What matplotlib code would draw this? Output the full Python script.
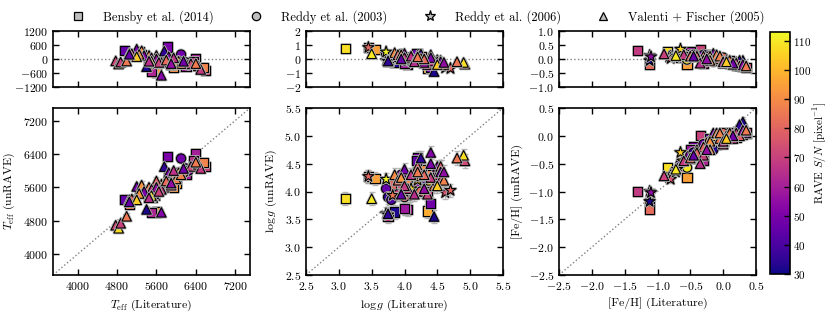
import matplotlib
matplotlib.use("Agg")
import matplotlib.pyplot as plt
import matplotlib.patheffects as pe
from matplotlib.lines import Line2D

plt.rcParams.update({
    "font.family": "serif",
    "font.serif": ["cmr10"],
    "mathtext.fontset": "cm",
    "axes.formatter.use_mathtext": True,
    "axes.unicode_minus": True,
    "font.size": 8.5,
    "axes.linewidth": 1.2,
    "xtick.direction": "in",
    "ytick.direction": "in",
    "xtick.top": True,
    "ytick.right": True,
    "xtick.major.size": 4,
    "ytick.major.size": 4,
    "xtick.major.width": 1.0,
    "ytick.major.width": 1.0,
    "xtick.minor.visible": False,
    "ytick.minor.visible": False,
})

# Bensby et al. (2014)
bensby_teff_lit = [5050, 5600, 6400, 5820, 5100, 5500, 6500, 6600, 6550, 5450, 5700,
                   5300, 6000, 6050, 5850, 5650, 6350, 5250, 5500, 6200, 5950, 4950]
bensby_teff_un = [5200, 5010, 6400, 6330, 5300, 4990, 6150, 6100, 6200, 5380, 5600,
                  5500, 5700, 5950, 5850, 5600, 6250, 5550, 5350, 5900, 5600, 5300]
bensby_logg_lit = [3.45, 3.55, 4.00, 4.20, 3.10, 4.05, 4.30, 4.35, 4.40, 3.85, 3.90,
                   3.75, 4.35, 4.40, 4.10, 3.90, 4.20, 3.80, 4.00, 4.50, 4.25, 4.18]
bensby_logg_un = [4.27, 4.23, 3.70, 4.60, 3.87, 3.68, 4.10, 4.00, 4.30, 3.63, 3.95,
                  3.55, 3.65, 3.78, 4.00, 4.10, 4.35, 4.12, 3.70, 4.30, 4.40, 4.55]
bensby_feh_lit = [-0.65, -0.55, 0.10, -0.45, -0.85, -0.30, 0.35, 0.30, 0.20, -1.12, -1.12,
                  -1.30, -0.10, -0.05, -0.35, -0.40, 0.00, -0.50, -0.50, 0.10, -0.10, -0.20]
bensby_feh_un = [-0.60, -0.75, 0.05, -0.20, -0.57, -0.45, 0.05, 0.02, -0.02, -1.20, -1.32,
                 -1.00, -0.15, 0.00, 0.00, -0.30, -0.10, -0.40, -0.25, -0.05, -0.10, -0.05]
bensby_snr = [85, 95, 60, 50, 108, 62, 72, 70, 88, 32, 82,
              68, 98, 48, 70, 72, 66, 80, 58, 60, 92, 45]

# Reddy et al. (2003)
reddy03_teff_lit = [6100, 6200, 5900, 5750, 5950, 6000, 5700, 6250, 5800, 6050, 5650, 6150]
reddy03_teff_un = [6290, 6050, 5800, 5650, 5850, 5800, 5550, 6000, 5700, 5950, 5500, 5950]
reddy03_logg_lit = [4.10, 4.30, 3.72, 3.95, 4.08, 4.00, 3.75, 4.20, 4.05, 3.90, 3.80, 4.25]
reddy03_logg_un = [4.00, 4.20, 4.05, 4.30, 3.93, 3.90, 3.90, 4.10, 4.15, 3.95, 3.85, 4.00]
reddy03_feh_lit = [-0.20, -0.15, -0.30, -0.50, -0.55, -0.30, -0.45, 0.05, -0.20, -0.10, -0.65, 0.00]
reddy03_feh_un = [-0.10, -0.25, -0.15, -0.35, -0.57, -0.35, -0.30, -0.05, -0.10, -0.05, -0.50, 0.05]
reddy03_snr = [48, 33, 45, 50, 110, 78, 35, 52, 90, 70, 40, 82]

# Reddy et al. (2006)
reddy06_teff_lit = [5600, 5500, 5800, 5700, 5650, 5600, 5750, 5900, 5700, 5550]
reddy06_teff_un = [5450, 5400, 5700, 5550, 5500, 5400, 5600, 5700, 5650, 5350]
reddy06_logg_lit = [4.00, 3.72, 3.72, 3.82, 4.62, 4.70, 4.10, 3.45, 4.20, 3.75]
reddy06_logg_un = [4.00, 3.60, 4.22, 3.93, 3.98, 4.02, 4.05, 4.27, 4.20, 3.58]
reddy06_feh_lit = [-1.12, -1.12, -0.80, -0.82, -0.80, -0.72, -0.62, -0.70, -0.65, -1.10]
reddy06_feh_un = [-1.00, -1.18, -0.70, -0.75, -0.78, -0.65, -0.45, -0.60, -0.30, -1.02]
reddy06_snr = [50, 32, 112, 85, 75, 80, 108, 80, 105, 55]

# Valenti + Fischer (2005)
valenti_teff_lit = [4773, 4833, 4874, 4995, 5400, 5700, 5200, 5050, 5100, 5300,
                    5450, 5600, 5760, 5850, 5950, 6050, 5550, 5500, 5750, 5800,
                    5900, 6000, 6300, 6450, 6500, 5350, 5250, 5600, 5700, 5500,
                    5650, 5800, 6100, 5950, 6150, 5200, 5450, 6400, 5050, 5900]
valenti_teff_un = [4690, 4619, 4738, 4905, 5070, 5000, 5620, 5300, 5320, 5650,
                   5600, 5750, 6095, 5950, 5850, 5950, 5450, 5550, 5600, 5700,
                   5650, 5800, 6100, 6150, 6050, 5500, 5450, 5600, 5550, 5400,
                   5500, 5750, 5900, 6000, 6050, 5300, 5350, 6200, 5250, 5700]
valenti_logg_lit = [4.92, 4.90, 4.55, 4.80, 4.45, 4.40, 4.00, 3.85, 3.90, 4.30,
                    4.10, 4.20, 4.25, 4.50, 4.25, 4.40, 3.75, 4.05, 4.30, 4.45,
                    4.35, 4.50, 4.50, 4.55, 4.40, 4.40, 3.95, 4.30, 4.00, 3.50,
                    4.55, 4.30, 4.60, 4.10, 4.55, 4.50, 4.15, 4.20, 3.95, 4.60]
valenti_logg_un = [4.55, 4.65, 4.45, 4.60, 3.55, 4.70, 4.40, 4.30, 4.20, 4.30,
                   4.30, 4.45, 4.60, 4.45, 4.28, 4.20, 3.60, 4.05, 4.00, 4.10,
                   3.95, 4.20, 4.30, 4.45, 4.25, 4.50, 4.25, 4.05, 4.10, 3.87,
                   4.20, 4.30, 4.20, 4.30, 4.35, 4.10, 3.95, 4.35, 3.95, 4.35]
valenti_feh_lit = [0.00, -0.10, 0.10, -0.05, 0.30, 0.20, -0.15, -0.40, -0.30, -0.20,
                   -0.10, 0.05, 0.25, 0.35, -0.05, 0.10, 0.35, -0.20, -0.40, -0.20,
                   -0.30, 0.10, 0.20, 0.25, 0.15, 0.00, -0.50, 0.30, -0.60, -0.72,
                   -0.90, -0.50, -0.05, 0.00, 0.15, 0.05, -0.35, 0.35, -0.45, -0.25]
valenti_feh_un = [-0.15, 0.00, 0.00, -0.05, 0.25, 0.10, 0.05, -0.25, -0.20, -0.10,
                  0.05, 0.00, 0.20, 0.05, 0.05, 0.05, 0.10, -0.25, -0.30, -0.25,
                  -0.35, 0.05, 0.05, 0.00, -0.05, -0.10, -0.40, 0.10, -0.45, -0.60,
                  -0.72, -0.40, 0.05, -0.10, 0.00, -0.05, -0.50, 0.10, -0.35, -0.25]
valenti_snr = [72, 108, 70, 85, 32, 52, 48, 90, 80, 92,
               88, 80, 35, 50, 92, 106, 35, 68, 80, 90,
               70, 88, 72, 78, 68, 50, 92, 55, 68, 110,
               70, 82, 88, 66, 48, 104, 65, 86, 45, 55]

labels = ["Bensby et al. (2014)", "Reddy et al. (2003)",
          "Reddy et al. (2006)", "Valenti + Fischer (2005)"]
markers = ["s", "o", "*", "^"]
sizes = [44, 44, 70, 46]

sources = [
    {"teff": (bensby_teff_lit, bensby_teff_un), "logg": (bensby_logg_lit, bensby_logg_un),
     "feh": (bensby_feh_lit, bensby_feh_un), "snr": bensby_snr},
    {"teff": (reddy03_teff_lit, reddy03_teff_un), "logg": (reddy03_logg_lit, reddy03_logg_un),
     "feh": (reddy03_feh_lit, reddy03_feh_un), "snr": reddy03_snr},
    {"teff": (reddy06_teff_lit, reddy06_teff_un), "logg": (reddy06_logg_lit, reddy06_logg_un),
     "feh": (reddy06_feh_lit, reddy06_feh_un), "snr": reddy06_snr},
    {"teff": (valenti_teff_lit, valenti_teff_un), "logg": (valenti_logg_lit, valenti_logg_un),
     "feh": (valenti_feh_lit, valenti_feh_un), "snr": valenti_snr},
]

# panel setup: key, limits, ticks, residual limits, residual ticks, label, error
panels = [
    ("teff", (3500, 7500), [4000, 4800, 5600, 6400, 7200], (-1200, 1200),
     [-1200, -600, 0, 600, 1200], r"$T_{\rm eff}$", 90),
    ("logg", (2.5, 5.5), [2.5, 3.0, 3.5, 4.0, 4.5, 5.0, 5.5], (-2, 2),
     [-2, -1, 0, 1, 2], r"$\log{g}$", 0.12),
    ("feh", (-2.5, 0.5), [-2.5, -2.0, -1.5, -1.0, -0.5, 0.0, 0.5], (-1, 1),
     [-1.0, -0.5, 0.0, 0.5, 1.0], "[Fe/H]", 0.06),
]
lefts = [53, 306, 559]

W, H = 830.0, 317.0


def box(x0, y0, x1, y1):
    return [x0 / W, 1 - y1 / H, (x1 - x0) / W, (y1 - y0) / H]


fig = plt.figure(figsize=(8.3, 3.17), dpi=100)
halo = [pe.withStroke(linewidth=2.0, foreground="0.7")]
fmt1 = matplotlib.ticker.FormatStrFormatter(r"$%.1f$")
sc = None

for (key, lim, ticks, dlim, dticks, name, err), x0 in zip(panels, lefts):
    ax_top = fig.add_axes(box(x0, 31, x0 + 197, 87))
    ax = fig.add_axes(box(x0, 108, x0 + 197, 275))

    for src, m, s in zip(sources, markers, sizes):
        lit, un = src[key]
        diff = [u - l for u, l in zip(un, lit)]
        ax.errorbar(lit, un, yerr=err, fmt="none", ecolor="0.65", elinewidth=1,
                    capsize=2, capthick=1, alpha=0.8, zorder=1)
        sc = ax.scatter(lit, un, c=src["snr"], cmap="plasma", vmin=30, vmax=113,
                        marker=m, s=s, edgecolors="k", linewidths=0.8, zorder=2,
                        path_effects=halo)
        ax_top.scatter(lit, diff, c=src["snr"], cmap="plasma", vmin=30, vmax=113,
                       marker=m, s=s, edgecolors="k", linewidths=0.8, zorder=2,
                       path_effects=halo)

    ax.plot(lim, lim, ":", color="0.5", lw=1, zorder=0)
    ax.set_xlim(lim)
    ax.set_ylim(lim)
    ax.set_xticks(ticks)
    ax.set_yticks(ticks)
    ax.set_xlabel(name + " (Literature)")
    ax.set_ylabel(name + " (unRAVE)")

    ax_top.axhline(0, ls=":", color="0.5", lw=1, zorder=0)
    ax_top.set_xlim(lim)
    ax_top.set_ylim(dlim)
    ax_top.set_xticks(ticks)
    ax_top.set_yticks(dticks)
    ax_top.set_xticklabels([])
    if key != "teff":
        ax.xaxis.set_major_formatter(fmt1)
        ax.yaxis.set_major_formatter(fmt1)
    if key == "feh":
        ax_top.yaxis.set_major_formatter(fmt1)

cax = fig.add_axes(box(770, 32, 790, 274))
cb = fig.colorbar(sc, cax=cax, ticks=range(30, 111, 10))
cb.set_label(r"RAVE $S/N$ [pixel$^{-1}$]", labelpad=0, fontsize=8)
cb.outline.set_linewidth(1.2)
cax.tick_params(direction="in", length=4, right=True, pad=2, labelsize=8)

handles = [Line2D([], [], ls="none", marker=m, markersize=6 if m != "*" else 8,
                  markerfacecolor="0.75", markeredgecolor="k", markeredgewidth=0.9)
           for m in markers]
fig.legend(handles, labels, loc="center", bbox_to_anchor=(0.5, 1 - 17 / H),
           ncol=4, frameon=False, fontsize=9, handletextpad=1.0,
           columnspacing=2.4, handlelength=2.0)

fig.savefig("out.png", dpi=100)
